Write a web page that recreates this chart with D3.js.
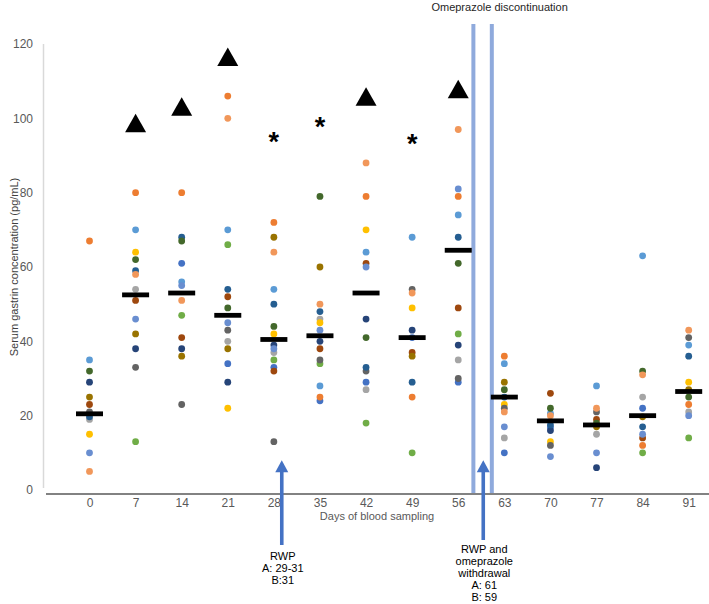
<!DOCTYPE html>
<html><head><meta charset="utf-8">
<script src="https://cdn.jsdelivr.net/npm/d3@7"></script>
<style>html,body{margin:0;padding:0;background:#fff;} svg{display:block;font-family:"Liberation Sans",Arial,sans-serif;}</style>
</head><body>
<svg id="chart" width="709" height="604"></svg>
<script>
// ---- data ----
const days = [0, 7, 14, 21, 28, 35, 42, 49, 56, 63, 70, 77, 84, 91];
const yTicks = [0, 20, 40, 60, 80, 100, 120];
// one array per subject (null = not measured / not visible)
const subjBlue        = [null, null, 61, 34, 33, 24, 29, 41, 29, 10, 16.8, null, 22, null];
const subjOrange      = [67, 80, 80, 106, 72, 25, 79, 25, 79, 36, null, null, 12, 23];
const subjGray        = [19, 54, null, 40, 37, 46, 27, null, 35, 14, null, 15, 25, 21];
const subjYellow      = [15, 64, null, 22, 42, 45, 70, 49, null, 23, 13, null, null, 29];
const subjLightBlue   = [35, 70, 56, 70, 54, 28, 64, 68, 74, 34, 20.6, 28, 63, 39];
const subjGreen       = [null, 13, 47, 66, 35, 34, 18, 10, 42, null, null, null, 10, 14];
const subjNavy        = [29, 38, 38, 29, 39, 40, 46, 43, 39, null, 16, 6, null, null];
const subjBrown       = [23, 51, 41, 52, 32, 38, 61, 37, 49, null, 26, 19, 14, null];
const subjDarkGray    = [21, 33, 23, 43, 13, 35, 32, 54, 30, 22, 12, 21, null, 41];
const subjOlive       = [25, 42, 36, 38, 68, 60, null, 36, null, 29, null, 17, 19.7, 27];
const subjSteelBlue   = [19.7, 59, 68, 54, 50, 48, 33, 29, 68, 25, 17.5, null, 17, 36];
const subjDarkGreen   = [32, 62, 67, 49, 44, 79, 41, null, 61, 27, 22, 18, 32, 25];
const subjCornflower  = [10, 46, 55, 45, 38, 43, 60, null, 81, 17, 9, 10, 15, 20];
const subjLightOrange = [5, 58, 51, 100, 64, 50, 88, 53, 97, 21, 20, 22, 31, 43];
const subjects = [subjBlue, subjOrange, subjGray, subjYellow, subjLightBlue, subjGreen, subjNavy,
  subjBrown, subjDarkGray, subjOlive, subjSteelBlue, subjDarkGreen, subjCornflower, subjLightOrange];
const subjectColors = ["#4472C4", "#ED7D31", "#A5A5A5", "#FFC000", "#5B9BD5", "#70AD47", "#264478",
  "#9E480E", "#636363", "#997300", "#255E91", "#43682B", "#698ED0", "#F1975A"];
const medians = [20.5, 52.5, 53, 47, 40.5, 41.5, 53, 41, 64.5, 25, 18.6, 17.5, 20, 26.5];
const triangleDays = [7, 14, 21, 42, 56];
const triangleValues = [98.7, 103.1, 116.5, 105.8, 107.8];
const starDays = [28, 35, 49];
const starValues = [95.1, 98.9, 94.5];
const omeprazoleLineDays = [58.3, 61.1];
const arrowDays = [29.2, 59.8];
const arrowTipValue = 8;
const arrowLabels = [["RWP", "A: 29-31", "B:31"], ["RWP and", "omeprazole", "withdrawal", "A: 61", "B: 59"]];

// ---- layout ----
const svg = d3.select("#chart");
const x = d3.scalePoint().domain(days).range([89.5, 688.7]);
const xLin = d3.scaleLinear().domain([0, 91]).range([89.5, 688.7]);
const y = d3.scaleLinear().domain([0, 120]).range([490, 44]);
const textCol = "#595959";

// y axis line (light gray)
svg.append("line").attr("x1", 43.5).attr("x2", 43.5).attr("y1", y(120)).attr("y2", y(0) - 2)
  .attr("stroke", "#D9D9D9").attr("stroke-width", 1.5);

// y axis labels
const yAxis = svg.append("g").attr("transform", "translate(43,0)")
  .call(d3.axisLeft(y).tickValues(yTicks).tickSize(0).tickPadding(10));
yAxis.select(".domain").remove();
yAxis.selectAll("text").attr("fill", textCol).style("font-size", "12px").style("font-family", "Liberation Sans, Arial, sans-serif");

// x axis
const xAxis = svg.append("g").attr("transform", `translate(0,${y(0) + 4})`)
  .call(d3.axisBottom(x).tickSize(0).tickPadding(4));
xAxis.select(".domain").attr("stroke", "#595959").attr("stroke-width", 1.3).attr("d", "M46,0H709");
xAxis.selectAll("text").attr("fill", textCol).style("font-size", "12px").style("font-family", "Liberation Sans, Arial, sans-serif");

// axis titles
svg.append("text").attr("transform", `translate(14,${(y(0) + y(120)) / 2}) rotate(-90)`)
  .attr("text-anchor", "middle").attr("dominant-baseline", "central")
  .attr("fill", "#404040").style("font-size", "11px").text("Serum gastrin concentration (pg/mL)");
svg.append("text").attr("x", 377).attr("y", 520).attr("text-anchor", "middle")
  .attr("fill", textCol).style("font-size", "11px").text("Days of blood sampling");

// omeprazole discontinuation lines
svg.selectAll("line.ome").data(omeprazoleLineDays).enter().append("line").attr("class", "ome")
  .attr("x1", d => xLin(d)).attr("x2", d => xLin(d)).attr("y1", 24).attr("y2", y(0) + 3)
  .attr("stroke", "#8FAADC").attr("stroke-width", 4);
svg.append("text").attr("x", d3.mean(omeprazoleLineDays, xLin) + 17).attr("y", 11).attr("text-anchor", "middle")
  .attr("fill", "#262626").style("font-size", "11px").text("Omeprazole discontinuation");

// dots
subjects.forEach((arr, si) => {
  svg.append("g").selectAll("circle").data(arr.map((v, i) => ({ v, d: days[i] })).filter(p => p.v !== null))
    .enter().append("circle")
    .attr("cx", p => x(p.d)).attr("cy", p => y(p.v)).attr("r", 3.4)
    .attr("fill", subjectColors[si]);
});

// medians
svg.append("g").selectAll("rect").data(medians).enter().append("rect")
  .attr("x", (m, i) => x(days[i]) - 13.5).attr("y", m => y(m) - 2.4)
  .attr("width", 27).attr("height", 4.8).attr("fill", "#000");

// triangles
svg.append("g").selectAll("path").data(triangleDays.map((d, i) => ({ d, v: triangleValues[i] })))
  .enter().append("path")
  .attr("transform", p => `translate(${x(p.d)},${y(p.v)})`)
  .attr("d", "M0,-9.5L10.5,9L-10.5,9Z").attr("fill", "#000");

// stars
svg.append("g").selectAll("text").data(starDays.map((d, i) => ({ d, v: starValues[i] })))
  .enter().append("text")
  .attr("x", p => x(p.d)).attr("y", p => y(p.v) + 14)
  .attr("text-anchor", "middle").attr("fill", "#000")
  .style("font-size", "27px").style("font-weight", "bold").text("*");

// arrows
arrowDays.forEach((d, i) => {
  const ax = xLin(d), tip = y(arrowTipValue);
  const g = svg.append("g");
  g.append("rect").attr("x", ax - 1.8).attr("y", tip + 10).attr("width", 3.6).attr("height", 545 - tip - 10 - (i === 1 ? 5 : 0)).attr("fill", "#4472C4");
  g.append("path").attr("d", `M${ax},${tip}L${ax + 6.5},${tip + 12}L${ax - 6.5},${tip + 12}Z`).attr("fill", "#4472C4");
  const t0 = i === 0 ? 556 : 549;
  arrowLabels[i].forEach((s, k) => {
    g.append("text").attr("x", ax + 1).attr("y", t0 + k * 12).attr("text-anchor", "middle")
      .attr("dominant-baseline", "central").attr("fill", "#000").style("font-size", "11px").text(s);
  });
});
</script>
</body></html>
